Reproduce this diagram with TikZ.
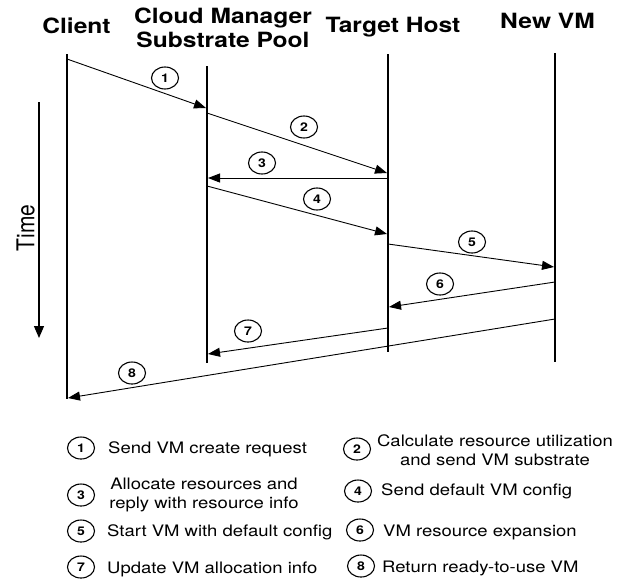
\documentclass[tikz,border=0pt]{standalone}
\usepackage{fontspec}
\setmainfont{TeX Gyre Heros}[FakeStretch=1.17]
\newfontfamily\plainheros{TeX Gyre Heros}
\usetikzlibrary{arrows.meta,shapes.geometric}

\begin{document}
\begin{tikzpicture}[x=1pt,y=-1pt,
  lifeline/.style={line width=1.2pt,draw=black},
  msg/.style={line width=0.9pt,-{Triangle[length=12pt,width=9pt]}},
  tag/.style={ellipse,draw,line width=1.1pt,minimum width=27pt,minimum height=22pt,
    inner sep=0pt,font=\fontsize{12}{13}\selectfont\bfseries},
  actor/.style={font=\fontsize{21}{24}\selectfont\bfseries,inner sep=0pt,align=center},
  note/.style={font=\fontsize{15.8}{18.5}\selectfont,inner sep=0pt,align=center},
]
\useasboundingbox (0,0) rectangle (617,582);

% participants
\node[actor,anchor=base] (client) at (76.5,33) {Client};
\node[actor,anchor=north] (cloud) at (223,7.5) {Cloud Manager\\Substrate Pool};
\node[actor,anchor=base] (host) at (393,32) {Target Host};
\node[actor,anchor=base] (vm) at (547.5,28) {New VM};

% lifelines
\coordinate (cl-top) at (67,54);   \coordinate (cl-bot) at (67,399);
\coordinate (cm-top) at (207,66);  \coordinate (cm-bot) at (207,363);
\coordinate (th-top) at (388,54);  \coordinate (th-bot) at (388,352);
\coordinate (vm-top) at (555,53);  \coordinate (vm-bot) at (555,362);
\draw[lifeline] (cl-top) -- (cl-bot);
\draw[lifeline] (cm-top) -- (cm-bot);
\draw[lifeline] (th-top) -- (th-bot);
\draw[lifeline] (vm-top) -- (vm-bot);

% time axis
\coordinate (t-top) at (39,102);
\coordinate (t-bot) at (39,338);
\draw[line width=1.2pt,-{Triangle[length=12pt,width=10pt]}] (t-top) -- (t-bot);
\node[rotate=90,inner sep=0pt,font=\plainheros\fontsize{21}{24}\selectfont] (time) at (25.5,228)
  {\scalebox{1}[1.17]{Time}};

% message end points
\coordinate (m1a) at (67,59);   \coordinate (m1b) at (206,108);
\coordinate (m2a) at (207,113); \coordinate (m2b) at (387,173);
\coordinate (m3a) at (388,178); \coordinate (m3b) at (208,178);
\coordinate (m4a) at (207,186); \coordinate (m4b) at (387,234);
\coordinate (m5a) at (388,244); \coordinate (m5b) at (554,267);
\coordinate (m6a) at (555,282); \coordinate (m6b) at (389,307);
\coordinate (m7a) at (388,328); \coordinate (m7b) at (208,354);
\coordinate (m8a) at (555,319); \coordinate (m8b) at (68,398);

\draw[msg] (m1a) -- (m1b);
\draw[msg] (m2a) -- (m2b);
\draw[msg] (m3a) -- (m3b);
\draw[msg] (m4a) -- (m4b);
\draw[msg] (m5a) -- (m5b);
\draw[msg] (m6a) -- (m6b);
\draw[msg] (m7a) -- (m7b);
\draw[msg] (m8a) -- (m8b);

% step numbers on the messages
\node[tag] (s1) at (165,78) {1};
\node[tag] (s2) at (304,127) {2};
\node[tag] (s3) at (262,163) {3};
\node[tag] (s4) at (317,199) {4};
\node[tag] (s5) at (472,242) {5};
\node[tag] (s6) at (440,284) {6};
\node[tag] (s7) at (248,331) {7};
\node[tag] (s8) at (132,373) {8};

% legend
\node[tag] (k1) at (81,448) {1};
\node[note,anchor=base west] (k1t) at (108,453) {Send VM create request};
\node[tag] (k2) at (357,449) {2};
\node[note] (k2t) at (495,450) {Calculate resource utilization\\and send VM substrate};
\node[tag] (k3) at (81,495) {3};
\node[note] (k3t) at (204,495) {Allocate resources and\\reply with resource info};
\node[tag] (k4) at (358,491) {4};
\node[note,anchor=base west] (k4t) at (381,495) {Send default VM config};
\node[tag] (k5) at (81,531) {5};
\node[note,anchor=base west] (k5t) at (107,536.5) {Start VM with default config};
\node[tag] (k6) at (360,530) {6};
\node[note,anchor=base west] (k6t) at (383,536) {VM resource expansion};
\node[tag] (k7) at (81,567) {7};
\node[note,anchor=base west] (k7t) at (107,573) {Update VM allocation info};
\node[tag] (k8) at (361,566) {8};
\node[note,anchor=base west] (k8t) at (382,572) {Return ready-to-use VM};
\end{tikzpicture}
\end{document}
